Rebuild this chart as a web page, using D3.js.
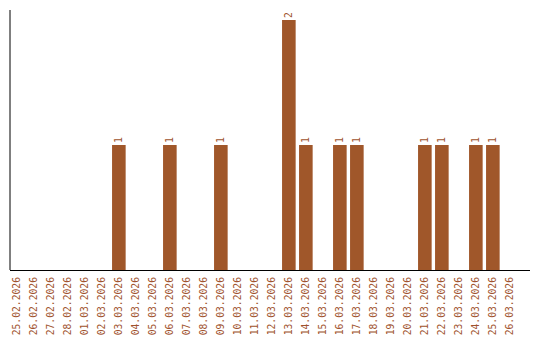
<!DOCTYPE html>
<html>
<head>
<meta charset="utf-8">
<script src="https://cdn.jsdelivr.net/npm/d3@7"></script>
<style>
  body { margin: 0; background: #fff; }
  text { font-family: "DejaVu Sans Mono", monospace; font-size: 9.7px; fill: #a0522d; }
</style>
</head>
<body>
<svg id="chart" width="540" height="340"></svg>
<script>
// days shown on the axis
var days = ["25.02.2026", "26.02.2026", "27.02.2026", "28.02.2026", "01.03.2026",
  "02.03.2026", "03.03.2026", "04.03.2026", "05.03.2026", "06.03.2026",
  "07.03.2026", "08.03.2026", "09.03.2026", "10.03.2026", "11.03.2026",
  "12.03.2026", "13.03.2026", "14.03.2026", "15.03.2026", "16.03.2026",
  "17.03.2026", "18.03.2026", "19.03.2026", "20.03.2026", "21.03.2026",
  "22.03.2026", "23.03.2026", "24.03.2026", "25.03.2026", "26.03.2026"];

// count per day
var counts = [0, 0, 0, 0, 0,
  0, 1, 0, 0, 1,
  0, 0, 1, 0, 0,
  0, 2, 1, 0, 1,
  1, 0, 0, 0, 1,
  1, 0, 1, 1, 0];

var data = days.map(function(d, i) { return {day: d, count: counts[i]}; });

var svg = d3.select("#chart"),
    margin = {top: 10, right: 10, bottom: 70, left: 10},
    width = +svg.attr("width") - margin.left - margin.right,
    height = +svg.attr("height") - margin.top - margin.bottom,
    g = svg.append("g").attr("transform", "translate(" + margin.left + "," + margin.top + ")");

var x = d3.scaleBand()
    .domain(days)
    .range([-1.65, 508.35])
    .paddingInner(0.2)
    .paddingOuter(0.1);

var y = d3.scaleLinear()
    .domain([0, d3.max(counts)])
    .range([height, 10]);

g.selectAll("rect")
  .data(data.filter(function(d) { return d.count > 0; }))
  .enter().append("rect")
    .attr("x", function(d) { return x(d.day); })
    .attr("y", function(d) { return y(d.count); })
    .attr("width", x.bandwidth())
    .attr("height", function(d) { return height - y(d.count); })
    .attr("fill", "#a0572a");

// value labels
g.selectAll(".val")
  .data(data.filter(function(d) { return d.count > 0; }))
  .enter().append("text")
    .attr("class", "val")
    .attr("text-anchor", "start")
    .attr("dy", "0.35em")
    .attr("transform", function(d) {
      return "translate(" + (x(d.day) + x.bandwidth() / 2) + "," + (y(d.count) - 2) + ") rotate(-90)";
    })
    .text(function(d) { return d.count; });

// x axis labels
g.selectAll(".lbl")
  .data(days)
  .enter().append("text")
    .attr("class", "lbl")
    .attr("text-anchor", "end")
    .attr("dy", "0.35em")
    .attr("transform", function(d) {
      return "translate(" + (x(d) + x.bandwidth() / 2) + "," + (height + 7) + ") rotate(-90)";
    })
    .text(function(d) { return d; });

// axis lines
g.append("line")
    .attr("x1", 0).attr("x2", 0)
    .attr("y1", 0).attr("y2", height)
    .attr("stroke", "#000");

g.append("line")
    .attr("x1", 0).attr("x2", width)
    .attr("y1", height + 0.5).attr("y2", height + 0.5)
    .attr("stroke", "#000");
</script>
</body>
</html>
